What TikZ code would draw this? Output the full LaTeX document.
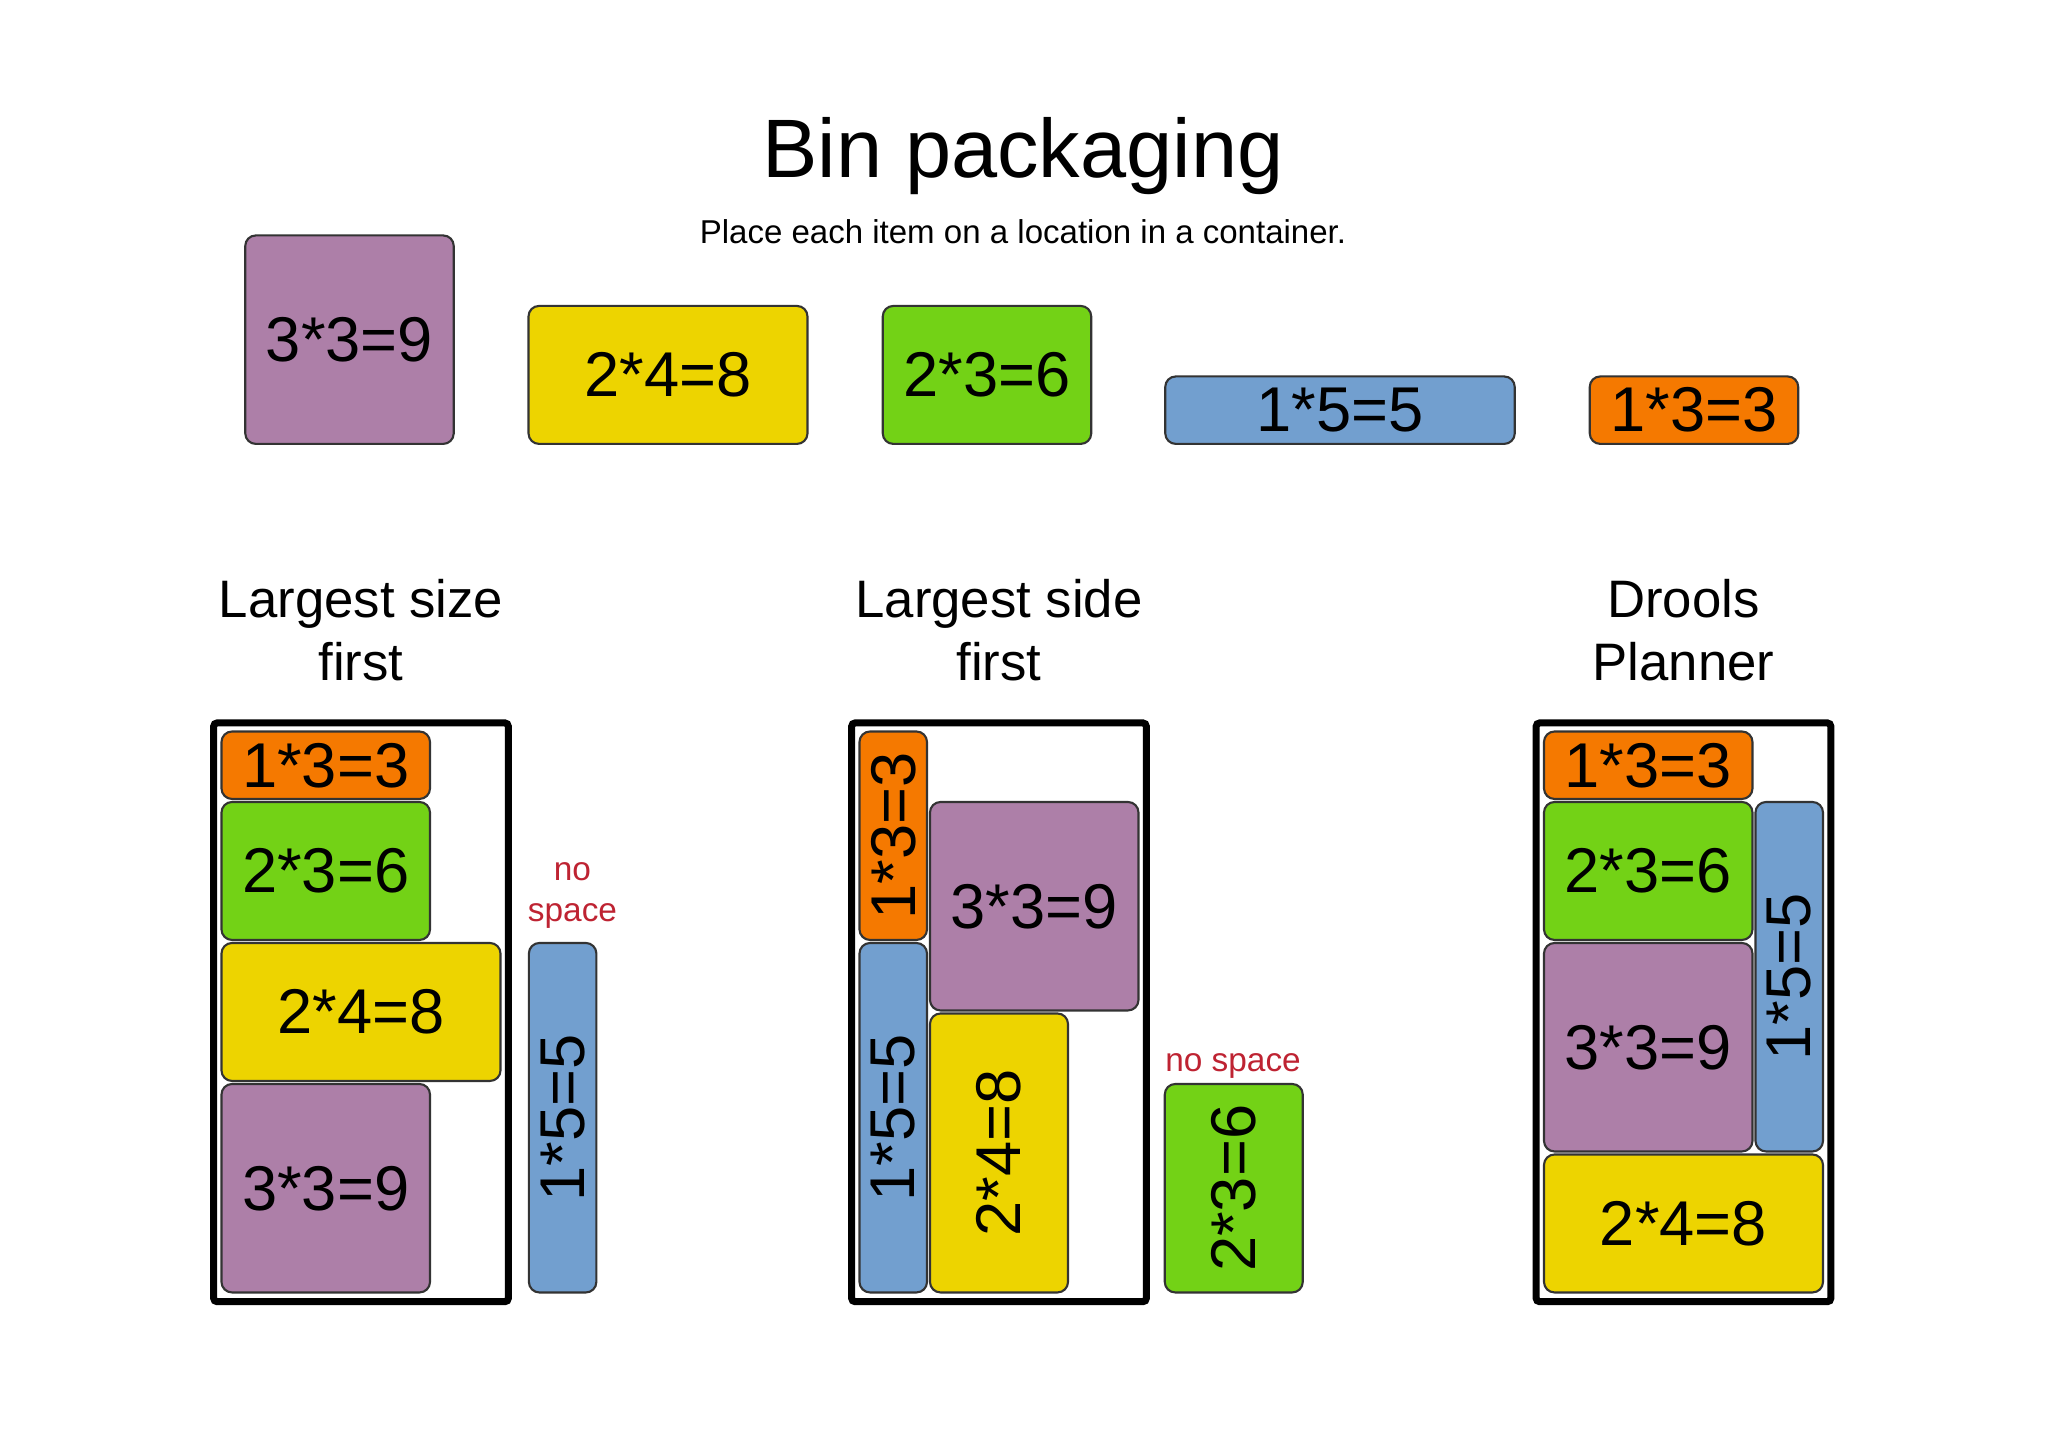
\documentclass[tikz,border=0pt]{standalone}
\usepackage{fontspec}
\setmainfont{Liberation Sans}
\usepackage{xcolor}
\usepackage{tikz}
\usetikzlibrary{positioning}

\definecolor{plum}{HTML}{AD7FA8}
\definecolor{butter}{HTML}{EDD400}
\definecolor{chameleon}{HTML}{73D216}
\definecolor{skyblue}{HTML}{729FCF}
\definecolor{tangoorange}{HTML}{F57900}
\definecolor{nospace}{RGB}{190,35,50}

\begin{document}
\begin{tikzpicture}[
    itembox/.style={draw=black!80, line width=0.6pt, rounded corners=3pt, inner sep=0pt,
        font=\fontsize{18}{18}\selectfont},
    cells/.style n args={2}{minimum width={#1*7.05mm-0.3mm}, minimum height={#2*7.05mm-0.3mm}},
    a3/.style={itembox, fill=tangoorange, cells={3}{1}},
    a5/.style={itembox, fill=skyblue, cells={5}{1}},
    a6/.style={itembox, fill=chameleon, cells={3}{2}},
    a8/.style={itembox, fill=butter, cells={4}{2}},
    a9/.style={itembox, fill=plum, cells={3}{3}},
    upright/.style={rotate=90},
    bin/.style={line width=2pt, rounded corners=1pt},
    header/.style={font=\fontsize{15}{18}\selectfont, align=center, inner sep=0pt},
    warn/.style={text=nospace, font=\fontsize{9.5}{11.5}\selectfont, align=center, inner sep=0pt},
    binunits/.style={x=0.705cm, y=-0.705cm}
]
    \useasboundingbox (0,0) rectangle (20.48,14.47);

    % Title
    \node[anchor=base, font=\fontsize{23.6}{26}\selectfont] (title) at (10.23, 12.69) {Bin packaging};
    \node[anchor=base, font=\fontsize{9.4}{11}\selectfont] (subtitle) at (10.23, 12.03)
        {Place each item on a location in a container.};

    % Items to place (bottoms aligned)
    \node[a9, anchor=south] (top9) at (3.495, 10.02) {3*3=9};
    \node[a8, anchor=south] (top8) at (6.68, 10.02) {2*4=8};
    \node[a6, anchor=south] (top6) at (9.87, 10.02) {2*3=6};
    \node[a5, anchor=south] (top5) at (13.40, 10.02) {1*5=5};
    \node[a3, anchor=south] (top3) at (16.94, 10.02) {1*3=3};

    % Largest size first
    \begin{scope}[shift={(2.20,7.17)}, binunits]
        \node[header] (hsize) at (2, -1.42) {Largest size\\first};
        \draw[bin] (-0.09, -0.1) rectangle (4.09, 8.11);
        \node[a3] (lsz3) at (1.5, 0.5) {1*3=3};
        \node[a6] (lsz6) at (1.5, 2) {2*3=6};
        \node[a8] (lsz8) at (2, 4) {2*4=8};
        \node[a9] (lsz9) at (1.5, 6.5) {3*3=9};
        % does not fit
        \node[warn] (lszwarn) at (5.0, 2.35) {no\\space};
        \node[a5, upright] (lsz5) at (4.86, 5.5) {1*5=5};
    \end{scope}

    % Largest side first
    \begin{scope}[shift={(8.58,7.17)}, binunits]
        \node[header] (hside) at (2, -1.42) {Largest side\\first};
        \draw[bin] (-0.09, -0.1) rectangle (4.09, 8.11);
        \node[a3, upright] (lsd3) at (0.5, 1.5) {1*3=3};
        \node[a5, upright] (lsd5) at (0.5, 5.5) {1*5=5};
        \node[a9] (lsd9) at (2.5, 2.5) {3*3=9};
        \node[a8, upright] (lsd8) at (2, 6) {2*4=8};
        % does not fit
        \node[warn] (lsdwarn) at (5.32, 4.77) {no space};
        \node[a6, upright] (lsd6) at (5.33, 6.5) {2*3=6};
    \end{scope}

    % Drools Planner
    \begin{scope}[shift={(15.425,7.17)}, binunits]
        \node[header] (hdrools) at (2, -1.42) {Drools\\Planner};
        \draw[bin] (-0.09, -0.1) rectangle (4.09, 8.11);
        \node[a3] (dp3) at (1.5, 0.5) {1*3=3};
        \node[a6] (dp6) at (1.5, 2) {2*3=6};
        \node[a9] (dp9) at (1.5, 4.5) {3*3=9};
        \node[a5, upright] (dp5) at (3.5, 3.5) {1*5=5};
        \node[a8] (dp8) at (2, 7) {2*4=8};
    \end{scope}
\end{tikzpicture}
\end{document}
